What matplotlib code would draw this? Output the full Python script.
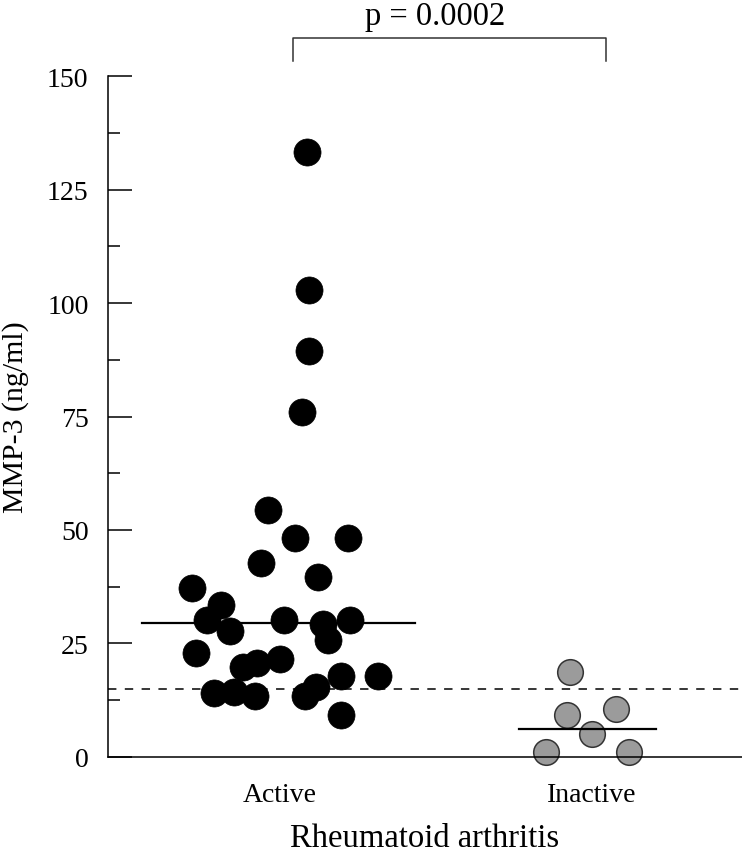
import numpy as np
import matplotlib.pyplot as plt
from matplotlib.ticker import MultipleLocator

plt.rcParams["font.family"] = ["Liberation Serif", "DejaVu Serif"]

# --- data
groups = ["Active", "Inactive"]

active_x = [0.962, 1.048, 1.219, 0.939, 1.123, 0.719, 0.811, 0.765, 0.840, 1.013,
            1.139, 1.224, 1.155, 0.730, 0.880, 0.927, 1.000, 1.196, 1.313, 0.788,
            0.853, 0.920, 1.080, 1.115, 1.196, 1.086, 1.092, 1.092, 1.071]
active_y = [54.4, 48.2, 48.2, 42.7, 39.6, 37.3, 33.5, 30.2, 27.8, 30.2,
            29.4, 30.2, 25.8, 22.8, 19.9, 20.8, 21.6, 17.9, 17.9, 14.2,
            14.4, 13.5, 13.4, 15.4, 9.3, 133.3, 102.9, 89.5, 75.9]

inactive_x = [1.929, 1.921, 2.076, 1.999, 1.852, 2.120]
inactive_y = [18.8, 9.3, 10.6, 5.1, 1.0, 1.0]

active_median = 29.6
inactive_median = 6.2
cutoff = 15.0
p_text = "p = 0.0002"

fig = plt.figure(figsize=(7.42, 8.53), dpi=100)
ax = fig.add_axes([0.1456, 0.1114, 0.8544, 0.7983])

ax.scatter(active_x, active_y, s=380, color="black", edgecolor="black",
           linewidth=0.5, zorder=3, clip_on=False)
ax.scatter(inactive_x, inactive_y, s=340, color="#9b9b9b", edgecolor="#333333",
           linewidth=1.1, zorder=3, clip_on=False)

# medians and cutoff
ax.plot([0.558, 1.433], [active_median] * 2, color="black", lw=1.6, zorder=4)
ax.plot([1.766, 2.204], [inactive_median] * 2, color="black", lw=1.6, zorder=4)
ax.axhline(cutoff, color="black", lw=1.1, dashes=(5.5, 5.5), zorder=2)

# significance bracket
ax.plot([1.042, 1.042, 2.045, 2.045], [153.3, 158.4, 158.4, 153.3],
        color="#333333", lw=1.1, clip_on=False)
ax.text(1.497, 161.5, p_text, ha="center", va="baseline", fontsize=23.5)

ax.set_xlim(0.4487, 2.4808)
ax.set_ylim(0, 150)
ax.set_xticks([1, 2])
ax.set_xticklabels(groups)
ax.tick_params(axis="x", length=0, pad=18, labelsize=20)
ax.yaxis.set_major_locator(MultipleLocator(25))
ax.yaxis.set_minor_locator(MultipleLocator(12.5))
ax.tick_params(axis="y", which="major", direction="in", length=17, width=1.1,
               pad=14, labelsize=20)
ax.tick_params(axis="y", which="minor", direction="in", length=8.5, width=1.1)

for side in ["top", "right"]:
    ax.spines[side].set_visible(False)
for side in ["left", "bottom"]:
    ax.spines[side].set_linewidth(1.1)
    ax.spines[side].set_zorder(5)

ax.set_ylabel("MMP-3 (ng/ml)", fontsize=21.5)
ax.yaxis.set_label_coords(-0.124, 0.5)
ax.set_xlabel("Rheumatoid arthritis", fontsize=23.5, labelpad=11)

fig.savefig("out.png", dpi=100)
